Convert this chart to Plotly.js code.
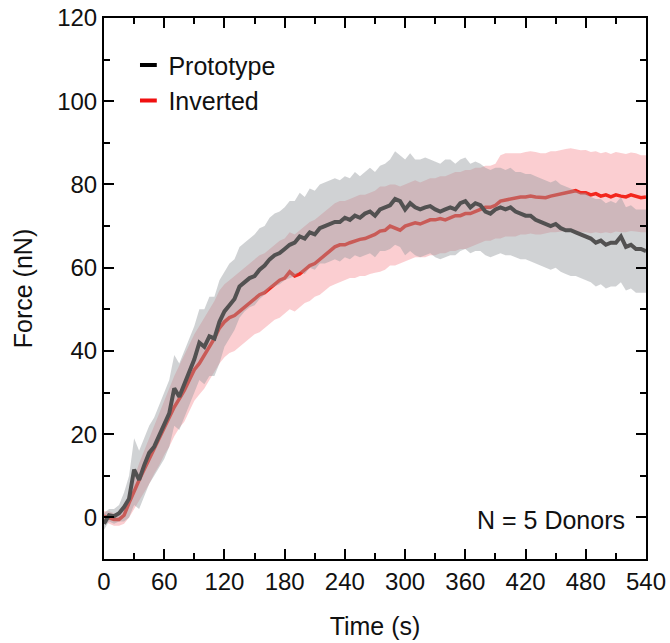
<!DOCTYPE html>
<html>
<head>
<meta charset="utf-8">
<script src="https://cdn.plot.ly/plotly-3.0.1.min.js"></script>
<style>html,body{margin:0;padding:0;background:#fff;}#chart{width:670px;height:643px;}</style>
</head>
<body>
<div id="chart"></div>
<script>
const time = [0,5,10,15,20,25,30,35,40,45,50,55,60,65,70,75,80,85,90,95,100,105,110,115,120,125,130,135,140,145,150,155,160,165,170,175,180,185,190,195,200,205,210,215,220,225,230,235,240,245,250,255,260,265,270,275,280,285,290,295,300,305,310,315,320,325,330,335,340,345,350,355,360,365,370,375,380,385,390,395,400,405,410,415,420,425,430,435,440,445,450,455,460,465,470,475,480,485,490,495,500,505,510,515,520,525,530,535,540];

const protoMean = [-1.5,0.5,0.3,1.0,2.5,4.5,11.5,9.0,12.5,15.5,17.0,19.5,22.0,25.0,31.0,29.0,32.0,35.0,38.0,42.0,41.0,43.5,43.0,47.0,49.5,51.0,52.5,55.5,56.5,57.5,58.0,59.5,60.5,62.0,63.0,63.5,64.5,65.5,66.0,67.5,67.0,68.5,68.0,69.5,70.0,70.5,71.0,71.0,72.0,71.5,72.5,72.0,73.0,73.5,72.5,74.0,74.5,75.0,76.5,76.0,74.0,75.5,74.5,74.0,74.5,74.8,74.0,73.5,74.0,74.5,74.0,75.5,76.0,74.5,75.5,75.0,73.5,73.0,74.0,74.5,74.0,74.5,73.5,73.0,72.5,72.5,71.5,71.0,70.5,70.0,70.5,69.5,69.0,69.0,68.5,68.0,67.5,67.0,66.0,66.5,65.5,66.0,66.0,67.5,65.0,65.5,64.5,64.5,64.0];
const protoUpper = [1,2,2,3,6,10,19,16,19,22,24,27,30,33,39,37,40,43,46,50,50,53,53,57,59,61,62,65,66,67,68,69.5,70,72,73,73.5,74.5,76,76,78,77,79,78.5,80,80.5,81,81.5,81,82,81.5,83,82,83,84,83,84.5,85,86,88,87,86,87.5,86,86,86.5,86,85.5,85,86,86,85,86,86.5,85,85.5,85,84,83.5,84,84,83.5,84,83,83,82.5,82.5,82,81.5,81,80.5,81,80,79.5,79,78.5,78,78,77,76.5,76.5,75.5,76,75.5,77,74.5,75,74,74,74];
const protoLower = [-3,-1,-1.5,-1,-1,0,3,2,5,8,10,12,14,17,22,21,24,27,30,33,32,34,34,37,41,43,45,48,49.5,50.5,51,52.5,53.5,55,55.5,56,57,57.5,58,59,58.5,60,59.5,61,61,61.5,62,61.5,62.5,62,63,62.5,63,63.5,62.5,64,64,64.5,65.5,65,63,64,63,62.5,63,63.5,62.5,62,62.5,63,63,64,64.5,63.5,64,64,63,62.5,63,63.5,63,63,62.5,62,62,61.5,61,60.5,60,59.5,60,59,58.5,58,58,57.5,57,56.5,55.5,56,55,55.5,55.5,56.5,54.5,55,54,54,54];

const invMean = [0.3,0.0,-0.5,-0.5,0.5,3.5,6.5,9.0,11.5,14.0,16.5,19.0,21.5,24.0,26.5,28.5,30.5,33.0,35.5,37.0,39.0,41.0,43.0,45.5,47.0,48.0,48.5,49.5,50.5,51.5,52.5,53.5,54.0,55.0,56.0,57.0,57.5,59.0,58.0,58.5,59.5,60.5,61.0,62.0,63.0,64.0,65.0,65.5,65.5,66.0,66.5,66.8,67.0,67.5,68.0,68.8,69.0,70.0,69.5,69.0,70.0,70.5,70.8,70.5,71.0,71.5,71.5,71.8,71.5,72.0,72.5,72.5,73.0,73.0,73.5,74.0,74.5,74.5,75.0,76.0,76.3,76.5,76.8,77.0,77.0,77.2,77.0,76.8,76.8,77.2,77.5,77.8,78.0,78.3,78.5,78.0,78.0,77.5,77.8,77.2,77.5,77.0,77.5,77.2,77.0,77.5,77.2,76.8,77.0];
const invUpper = [1.5,1.5,1,1,2.5,6,10,13,16,19,22,25,28,31,34,36.5,39,41.5,44,46,48,50,52,54.5,56,57,58,59,60,61,62,63,63.5,64.5,65.5,66.5,67,68.5,68,69,70,71,71.5,72.5,73.5,74.5,75.5,76,76,76.5,77,77.5,77.5,78,78.5,79.5,79.5,80,80,79.5,80,80.5,81,80.5,81,81.5,81.5,82,82,82.5,83,83,83.5,83.5,84,84,84.5,84.5,85,87,87.5,87.5,87.5,87.5,87.8,88,87.8,87.5,87.5,88,88,88.3,88.5,88.7,88.5,88.2,88.3,87.8,88,87.5,87.8,87.3,87.8,87.5,87.3,87.7,87.5,87,87];
const invLower = [-1,-1.5,-2,-2,-1.5,0,2,4,6,8,10.5,12.5,15,17,19.5,21.5,23,25.5,28,29.5,31,33,35,37,38.5,39.5,40,41,42,43,44,44.5,45.5,46.5,47.5,48,49,50,49.5,50.5,51.5,52,53,53.5,54.5,55.5,56,56.5,57,57.5,57.5,58,58,58.5,58.8,59,59.5,60.5,60.5,61,61.5,62,62.5,62.5,62.5,63,63,63.5,63.5,64,64,64.5,64.5,65,65.5,66,66.5,66.5,67,67,67.5,67.5,67.5,68,68,68.2,68,68,68.3,68.5,68.5,68.7,68.8,69,68.8,68.5,68.5,68.3,68.5,68.3,68.5,68.3,68.7,68.5,68.5,68.8,68.7,68.5,68.5];

const seriesNames = ['Prototype', 'Inverted'];
const xTicks = [0,60,120,180,240,300,360,420,480,540];
const yTicks = [0,20,40,60,80,100,120];
const noteText = 'N = 5 Donors';

const FONT = 'Liberation Sans, Arial, Helvetica, sans-serif';
const RED = '#f5200f';
const BLACK = '#1a1412';
const PINK = 'rgba(240,60,70,0.25)';
const GRAY = 'rgba(150,156,160,0.45)';

const traces = [
  {x: time, y: invMean, mode: 'lines', line: {color: RED, width: 3.5}, showlegend: false, hoverinfo: 'skip'},
  {x: time, y: invLower, mode: 'lines', line: {width: 0, color: 'rgba(0,0,0,0)'}, showlegend: false, hoverinfo: 'skip'},
  {x: time, y: invUpper, mode: 'lines', line: {width: 0, color: 'rgba(0,0,0,0)'}, fill: 'tonexty', fillcolor: PINK, showlegend: false, hoverinfo: 'skip'},
  {x: time, y: protoMean, mode: 'lines', line: {color: BLACK, width: 4}, showlegend: false, hoverinfo: 'skip'},
  {x: time, y: protoLower, mode: 'lines', line: {width: 0, color: 'rgba(0,0,0,0)'}, showlegend: false, hoverinfo: 'skip'},
  {x: time, y: protoUpper, mode: 'lines', line: {width: 0, color: 'rgba(0,0,0,0)'}, fill: 'tonexty', fillcolor: GRAY, showlegend: false, hoverinfo: 'skip'},
  {x: [null], y: [null], name: seriesNames[0], mode: 'markers', marker: {symbol: 'line-ew-open', size: 12, line: {width: 4, color: '#000'}, color: '#000'}},
  {x: [null], y: [null], name: seriesNames[1], mode: 'markers', marker: {symbol: 'line-ew-open', size: 12, line: {width: 4, color: '#f01010'}, color: '#f01010'}}
];

const axisCommon = {
  showline: true, linewidth: 2, linecolor: '#000', mirror: 'ticks',
  ticks: 'inside', ticklen: 10, tickwidth: 2, tickcolor: '#000',
  showgrid: false, zeroline: false,
  tickfont: {family: FONT, size: 24, color: '#111'}
};

const layout = {
  width: 670, height: 643,
  margin: {l: 104, r: 24, t: 18, b: 84},
  paper_bgcolor: '#fff', plot_bgcolor: '#fff',
  font: {family: FONT, color: '#111'},
  xaxis: Object.assign({}, axisCommon, {
    range: [0, 540], tickmode: 'array', tickvals: xTicks, ticktext: xTicks.map(String),
    minor: {ticks: 'inside', ticklen: 6, tickwidth: 2, tickcolor: '#000', dtick: 30, tick0: 0},
    title: {text: 'Time (s)', font: {family: FONT, size: 25, color: '#111'}, standoff: 24}
  }),
  yaxis: Object.assign({}, axisCommon, {
    range: [-10, 120], tickmode: 'array', tickvals: yTicks, ticktext: yTicks.map(String),
    minor: {ticks: 'inside', ticklen: 6, tickwidth: 2, tickcolor: '#000', dtick: 10, tick0: 0},
    title: {text: 'Force (nN)', font: {family: FONT, size: 25, color: '#111'}, standoff: 17}
  }),
  legend: {
    x: 0.045, y: 0.955, xanchor: 'left', yanchor: 'top', traceorder: 'normal',
    bgcolor: 'rgba(0,0,0,0)', borderwidth: 0,
    font: {family: FONT, size: 25, color: '#111'},
    itemwidth: 30, tracegroupgap: 0
  },
  annotations: [{
    xref: 'paper', yref: 'paper', x: 0.965, y: 0.072, xanchor: 'right', yanchor: 'middle',
    text: noteText, showarrow: false, font: {family: FONT, size: 25, color: '#111'}
  }]
};

Plotly.newPlot('chart', traces, layout, {displayModeBar: false, staticPlot: true});
</script>
</body>
</html>
